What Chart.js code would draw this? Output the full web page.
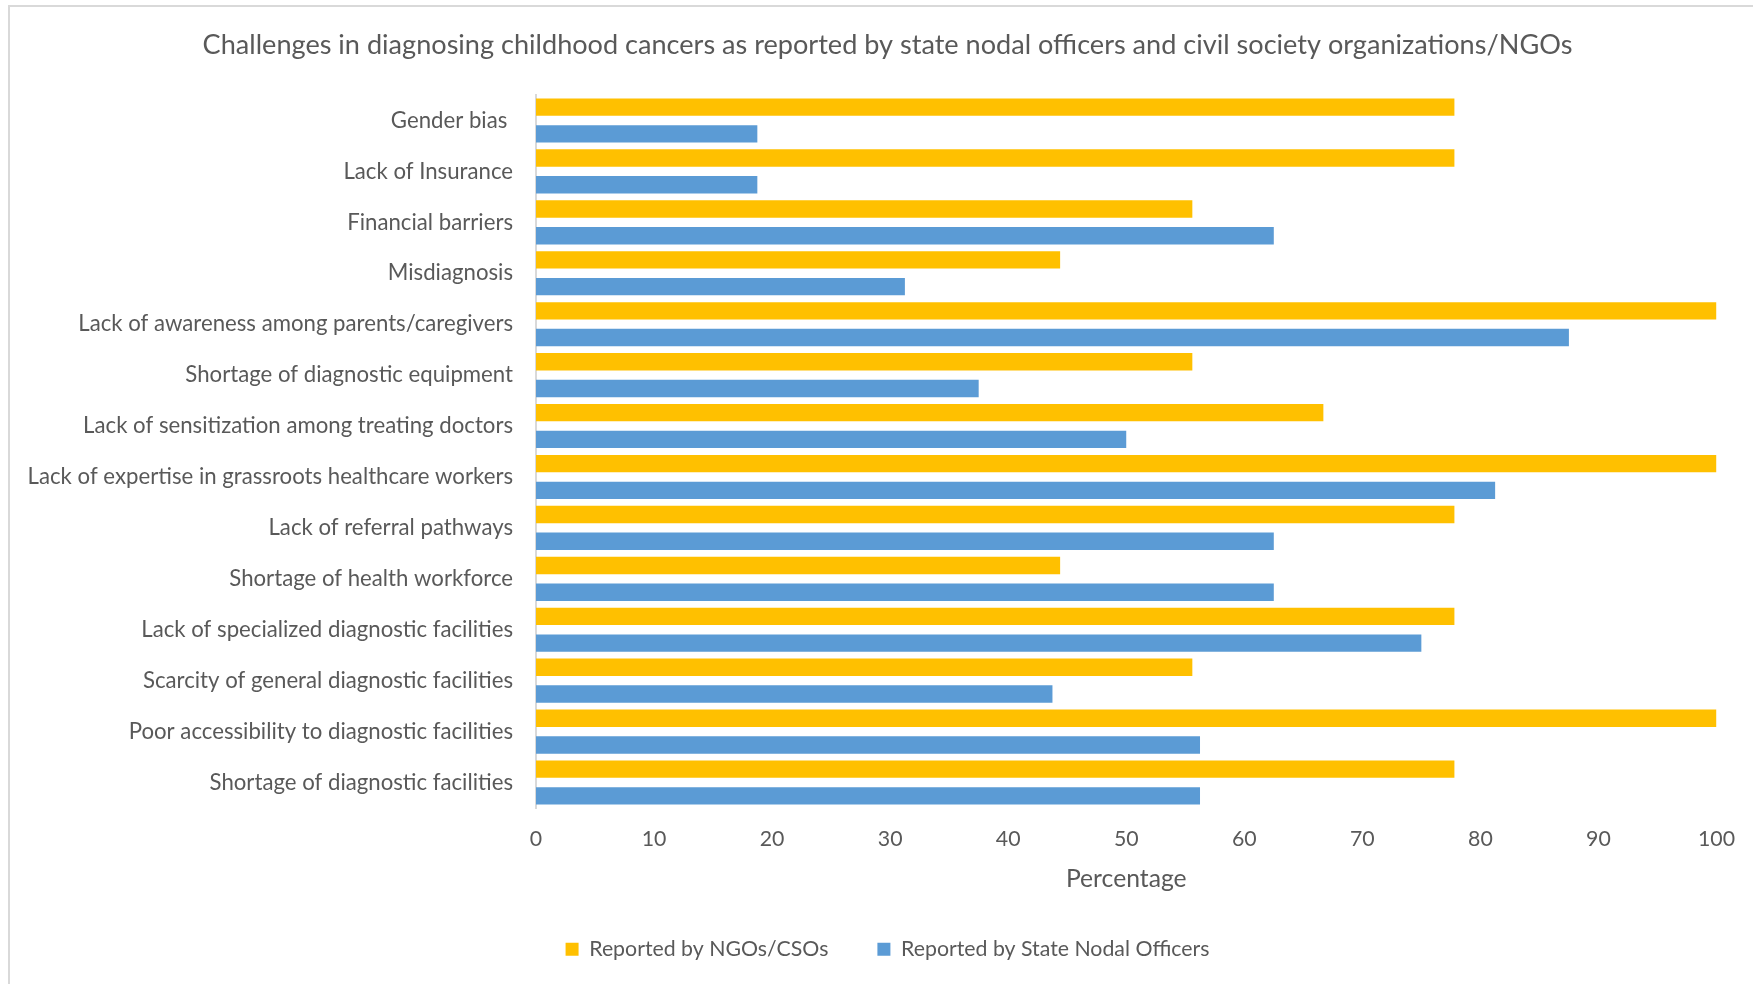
<!DOCTYPE html>
<html>
<head>
<meta charset="utf-8">
<script src="https://cdn.jsdelivr.net/npm/chart.js@4.4.1/dist/chart.umd.min.js"></script>
<style>
  html, body { margin: 0; padding: 0; background: #ffffff; }
  #frame { position: absolute; left: 8px; top: 5px; width: 1760px; height: 990px;
           border-left: 2px solid #D9D9D9; border-top: 2px solid #D9D9D9; box-sizing: border-box; }
  #wrap { position: absolute; left: 0; top: 0; width: 1753px; height: 984px; }
</style>
</head>
<body>
<div id="frame"></div>
<div id="wrap"><canvas id="c" width="1753" height="984"></canvas></div>
<script>
const titleText = "Challenges in diagnosing childhood cancers as reported by state nodal officers and civil society organizations/NGOs";
const xAxisTitle = "Percentage";
const categories = [
  "Gender bias ",
  "Lack of Insurance",
  "Financial barriers",
  "Misdiagnosis",
  "Lack of awareness among parents/caregivers",
  "Shortage of diagnostic equipment",
  "Lack of sensitization among treating doctors",
  "Lack of expertise in grassroots healthcare workers",
  "Lack of referral pathways",
  "Shortage of health workforce",
  "Lack of specialized diagnostic facilities",
  "Scarcity of general diagnostic facilities",
  "Poor accessibility to diagnostic facilities",
  "Shortage of diagnostic facilities"
];
const seriesNames = ["Reported by NGOs/CSOs", "Reported by State Nodal Officers"];
const ngoValues = [77.8, 77.8, 55.6, 44.4, 100, 55.6, 66.7, 100, 77.8, 44.4, 77.8, 55.6, 100, 77.8];
const officerValues = [18.75, 18.75, 62.5, 31.25, 87.5, 37.5, 50, 81.25, 62.5, 62.5, 75, 43.75, 56.25, 56.25];
const xTicks = [0, 10, 20, 30, 40, 50, 60, 70, 80, 90, 100];

const FONT = "Lato";
const TXT = "#595959";

const chart = new Chart(document.getElementById("c"), {
  type: "bar",
  data: {
    labels: categories,
    datasets: [
      { label: seriesNames[0], data: ngoValues, backgroundColor: "#FFC000", borderWidth: 0,
        categoryPercentage: 1.05, barPercentage: 0.65 },
      { label: seriesNames[1], data: officerValues, backgroundColor: "#5B9BD5", borderWidth: 0,
        categoryPercentage: 1.05, barPercentage: 0.65 }
    ]
  },
  options: {
    indexAxis: "y",
    responsive: false,
    animation: false,
    layout: { padding: { left: 56, right: 34, top: 0, bottom: 14 } },
    plugins: {
      tooltip: { enabled: false },
      title: {
        display: true, text: titleText, color: TXT,
        font: { family: FONT, size: 27.1, weight: "normal", lineHeight: 1.2 },
        padding: { top: 28.7, bottom: 33.8 }
      },
      legend: {
        position: "bottom",
        labels: { color: TXT, font: { family: FONT, size: 21.3 }, boxWidth: 13, boxHeight: 13, padding: 49 }
      }
    },
    scales: {
      x: {
        min: 0, max: 100,
        afterBuildTicks: (s) => { s.ticks = xTicks.map(v => ({ value: v })); },
        grid: { display: false, drawTicks: false },
        border: { display: false },
        ticks: { color: TXT, font: { family: FONT, size: 21.3 }, padding: 18 },
        title: { display: true, text: xAxisTitle, color: TXT, font: { family: FONT, size: 24.7, lineHeight: 0.9 }, padding: 0 },
        afterFit: (s) => { s.height = 81.7; }
      },
      y: {
        grid: { display: false, drawTicks: false },
        border: { display: true, color: "#D9D9D9", width: 2 },
        ticks: { color: TXT, font: { family: FONT, size: 22.2 }, padding: 23, autoSkip: false },
        afterFit: (s) => {
          s.width = 536 - 56;
          // let long category labels extend past the layout padding instead of being clipped
          s._computeLabelArea = () => undefined;
        }
      }
    }
  }
});
</script>
</body>
</html>
